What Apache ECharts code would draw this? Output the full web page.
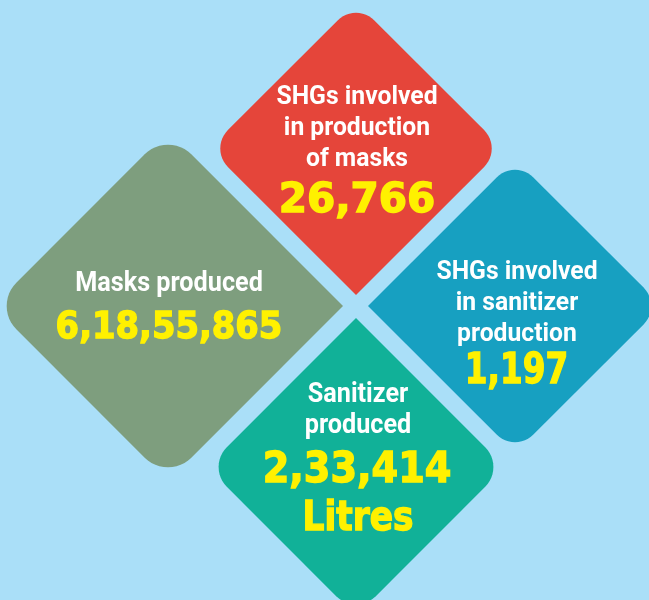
<!DOCTYPE html>
<html>
<head>
<meta charset="utf-8">
<script src="https://cdn.jsdelivr.net/npm/echarts@6/dist/echarts.min.js"></script>
<style>
  html, body { margin: 0; padding: 0; background: #aadff8; }
  #main { width: 649px; height: 600px; }
</style>
</head>
<body>
<div id="main"></div>
<script>
// data
const categories = [
  'SHGs involved\nin production\nof masks',
  'Masks produced',
  'SHGs involved\nin sanitizer\nproduction',
  'Sanitizer\nproduced'
];
const counts = [26766, 61855865, 1197, 233414];
const units = ['', '', '', 'Litres'];

// layout of the tiles (centre, half diagonal, corner radius, which corner is sharp) and text offsets
const layout = [
  { c: [356, 148.5], h: 146.5, r: 26, sharp: 2, lab: [1, -20.5], num: [1, 52.5] },
  { c: [168, 306], h: 175, r: 33, sharp: 1, lab: [1, -22], num: [1, 22] },
  { c: [515, 306], h: 147, r: 26, sharp: 3, lab: [2, -3], num: [1.5, 66] },
  { c: [356, 467], h: 149, r: 28, sharp: 0, lab: [2, -56.5], num: [1, 3.5], unit: [2, 52.5] }
];
const colors = ['#e5453a', '#7e9e7e', '#17a0c1', '#11b198'];
const labelSize = [26, 28, 26, 28];
const labelScale = [0.95, 0.9, 0.95, 0.9];
const numSize = [41, 38, 43, 42.5];
const numScale = [0.99, 0.89, 0.76, 0.9];
const unitSize = 40, unitScale = 0.86;

// Indian digit grouping: 6,18,55,865
function fmtIN(n) {
  let s = String(n);
  if (s.length <= 3) return s;
  let last3 = s.slice(-3), rest = s.slice(0, -3);
  rest = rest.replace(/\B(?=(\d{2})+(?!\d))/g, ',');
  return rest + ',' + last3;
}

function roundDiamond(v, sharp, r) {
  // v: [top, right, bottom, left] in pixels
  let pts = [];
  for (let k = 0; k < 4; k++) {
    let V = v[k], P = v[(k + 3) % 4], N = v[(k + 1) % 4];
    if (k === sharp) { pts.push(V); continue; }
    let l1 = Math.hypot(P[0] - V[0], P[1] - V[1]);
    let l2 = Math.hypot(N[0] - V[0], N[1] - V[1]);
    let e1 = [(P[0] - V[0]) / l1, (P[1] - V[1]) / l1];
    let e2 = [(N[0] - V[0]) / l2, (N[1] - V[1]) / l2];
    let C = [V[0] + r * e1[0] + r * e2[0], V[1] + r * e1[1] + r * e2[1]];
    for (let j = 0; j <= 12; j++) {
      let t = j / 12 * Math.PI / 2;
      pts.push([
        C[0] - r * (Math.cos(t) * e2[0] + Math.sin(t) * e1[0]),
        C[1] - r * (Math.cos(t) * e2[1] + Math.sin(t) * e1[1])
      ]);
    }
  }
  return pts;
}

const labelFont = "Roboto, 'DejaVu Sans Condensed', sans-serif";
const numFont = "'DejaVu Sans', sans-serif";
const yellow = '#fff100';

let myChart = echarts.init(document.getElementById('main'));
option = {
  backgroundColor: '#aadff8',
  animation: false,
  grid: { left: 0, right: 0, top: 0, bottom: 0 },
  xAxis: { type: 'value', min: 0, max: 649, show: false },
  yAxis: { type: 'value', min: 0, max: 600, inverse: true, show: false },
  series: [{
    type: 'custom',
    data: counts.map((v, i) => [layout[i].c[0], layout[i].c[1], v]),
    renderItem: function (params, api) {
      let i = params.dataIndex, L = layout[i];
      let x = api.value(0), y = api.value(1), h = L.h;
      let p = api.coord([x, y]);
      let v = [
        api.coord([x, y - h]),
        api.coord([x + h, y]),
        api.coord([x, y + h]),
        api.coord([x - h, y])
      ];
      let children = [
        { type: 'polygon', shape: { points: roundDiamond(v, L.sharp, L.r) }, style: { fill: colors[i] } },
        {
          type: 'text', x: p[0] + L.lab[0], y: p[1] + L.lab[1], scaleX: labelScale[i],
          style: {
            text: categories[i], fill: '#ffffff', fontFamily: labelFont, fontWeight: 'bold',
            fontSize: labelSize[i], lineHeight: 31, align: 'center', verticalAlign: 'middle'
          }
        },
        {
          type: 'text', x: p[0] + L.num[0], y: p[1] + L.num[1], scaleX: numScale[i],
          style: {
            text: fmtIN(api.value(2)), fill: yellow, stroke: yellow, lineWidth: 1.4,
            fontFamily: numFont, fontWeight: 'bold',
            fontSize: numSize[i], align: 'center', verticalAlign: 'middle'
          }
        }
      ];
      if (units[i]) {
        children.push({
          type: 'text', x: p[0] + L.unit[0], y: p[1] + L.unit[1], scaleX: unitScale,
          style: {
            text: units[i], fill: yellow, stroke: yellow, lineWidth: 1.4,
            fontFamily: numFont, fontWeight: 'bold',
            fontSize: unitSize, align: 'center', verticalAlign: 'middle'
          }
        });
      }
      return { type: 'group', children: children };
    }
  }]
};
myChart.setOption(option);
</script>
</body>
</html>
